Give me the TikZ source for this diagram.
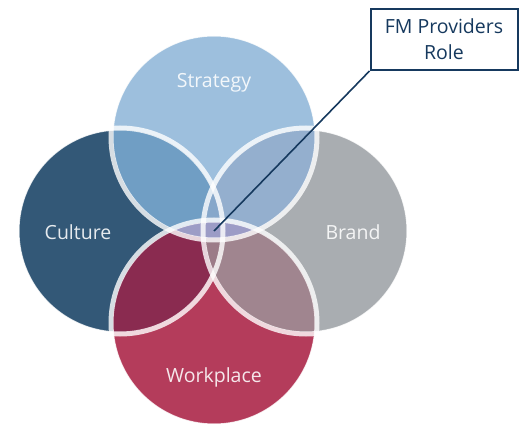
\documentclass[tikz,border=0pt]{standalone}
\usepackage{fontspec}
\setmainfont{Open Sans}
\definecolor{cS}{HTML}{9DBFDD}
\definecolor{cC}{HTML}{335877}
\definecolor{cB}{HTML}{A9ADB1}
\definecolor{cW}{HTML}{B43C5B}
\definecolor{cSC}{HTML}{709EC4}
\definecolor{cSB}{HTML}{94AFCE}
\definecolor{cCW}{HTML}{8A2B50}
\definecolor{cBW}{HTML}{A0858F}
\definecolor{cCBS}{HTML}{86A7CA}
\definecolor{cCBW}{HTML}{9C7B88}
\definecolor{cSW}{HTML}{9C9CC6}
\definecolor{navy}{HTML}{16395E}
\tikzset{
  ring/.style={draw=white, draw opacity=0.8, line width=5pt},
  lbl/.style={text=white, text opacity=0.88, font=\fontsize{19.5}{23}\selectfont, inner sep=0pt},
  callout/.style={draw=navy, line width=2pt, fill=white, text=navy, align=center,
    minimum width=147pt, minimum height=61pt, inner sep=0pt,
    font=\fontsize{19.5}{26}\selectfont},
  leader/.style={draw=navy, line width=1.6pt}
}
\begin{document}
\begin{tikzpicture}[x=1pt,y=-1pt]
\useasboundingbox (0,0) rectangle (519,427);
\coordinate (S) at (214,137);
\coordinate (C) at (120,231);
\coordinate (B) at (306,231);
\coordinate (W) at (214,323);
\def\R{101pt}
\def\RR{103pt}
% base discs
\fill[cS] (S) circle (\R);
\fill[cC] (C) circle (\R);
\fill[cB] (B) circle (\R);
\fill[cW] (W) circle (\R);
% pairwise overlaps
\begin{scope}
  \clip (S) circle (\R);
  \fill[cSC] (C) circle (\R);
  \fill[cSB] (B) circle (\R);
\end{scope}
\begin{scope}
  \clip (W) circle (\R);
  \fill[cCW] (C) circle (\R);
  \fill[cBW] (B) circle (\R);
\end{scope}
\begin{scope}
  \clip (C) circle (\R);
  \clip (B) circle (\R);
  \fill[cCBS] (S) circle (\R);
  \fill[cCBW] (W) circle (\R);
\end{scope}
\begin{scope}
  \clip (S) circle (\R);
  \fill[cSW] (W) circle (\R);
\end{scope}
% rings
\draw[ring] (S) circle (\RR);
\draw[ring] (C) circle (\RR);
\draw[ring] (B) circle (\RR);
\draw[ring] (W) circle (\RR);
% labels
\node[lbl] (strategy) at (214,83) {Strategy};
\node[lbl] (culture) at (78,232) {Culture};
\node[lbl] (brand) at (353,232) {Brand};
\node[lbl] (workplace) at (214,377) {Workplace};
% callout
\node[callout] (fm) at (444,39.5) {FM Providers\\Role};
\coordinate (tip) at (214,231);
\draw[leader] (fm.south west) -- (tip);
\end{tikzpicture}
\end{document}
